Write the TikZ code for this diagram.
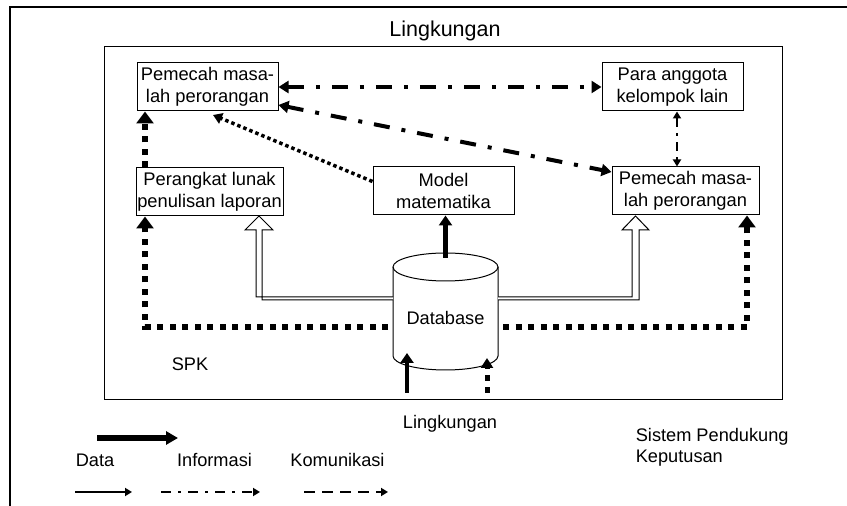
\documentclass[tikz,border=0pt]{standalone}
\usepackage{fontspec}
\setmainfont{Liberation Sans}
\usetikzlibrary{arrows.meta}

\begin{document}
\begin{tikzpicture}[x=1pt, y=1pt, line width=1pt,
    box/.style={draw, align=center, inner sep=1pt, minimum height=48pt, font=\fontsize{18.3}{21.5}\selectfont},
    txt/.style={font=\fontsize{18.2}{21.5}\selectfont},
    datapanah/.style={line width=4.5pt, -{Triangle[length=10pt,width=13pt]}},
    kotak/.style={line width=6pt, dash pattern=on 6pt off 6.5pt, -{Triangle[length=12pt,width=17pt]}},
    titik/.style={line width=3.5pt, dash pattern=on 3.5pt off 3pt, -{Triangle[length=9pt,width=11pt]}},
    titikgaris/.style={line width=4pt, dash pattern=on 16pt off 12pt on 4pt off 12pt,
      {Triangle[length=10pt,width=12pt]}-{Triangle[length=10pt,width=12pt]}},
    hampa/.style={fill=white, line width=1pt}]
    \useasboundingbox (0,0) rectangle (847,506);
    % frames
    \draw[line width=1.5pt] (10,0) -- (10,499) -- (847,499);
    \draw (104,106) rectangle (782,459);
    % set nodes
    \node[box, minimum width=141pt] (pemKiri) at (207.5,419) {Pemecah masa-\\lah perorangan};
    \node[box, minimum width=141pt] (anggota) at (672.5,419) {Para anggota\\kelompok lain};
    \node[box, minimum width=147pt] (perangkat) at (209.5,314) {Perangkat lunak\\penulisan laporan};
    \node[box, minimum width=141pt] (model) at (443.5,315) {Model\\matematika};
    \node[box, minimum width=147pt] (pemKanan) at (685.5,315) {Pemecah masa-\\lah perorangan};
    % database cylinder
    \draw[fill=white] (393,239) -- (393,150) arc[start angle=180, end angle=360, x radius=52.5, y radius=14] -- (498,239);
    \draw (445.5,239) ellipse[x radius=52.5, y radius=14];
    \node[txt] (db) at (445.5,188) {Database};
    % set coordinates
    \coordinate (dbAtas) at (445.5,248);
    \coordinate (kiriBawah) at (145,179);
    \coordinate (kananBawah) at (747,179);
    \coordinate (vx) at (677,0);
    \coordinate (masukData) at (407,113);
    \coordinate (masukKom) at (487,113);
    % draw connectors
    \draw[datapanah] (dbAtas) -- (dbAtas |- model.south);
    \draw[datapanah] (masukData) -- (407,153);
    \draw[line width=5pt, dash pattern=on 6pt off 6pt, -{Triangle[length=10pt,width=12pt]}] (masukKom) -- (487,148);
    \draw[kotak] (388,179) -- (kiriBawah) -- (kiriBawah |- perangkat.south);
    \draw[kotak] (503,179) -- (kananBawah) -- (kananBawah |- pemKanan.south);
    \draw[kotak] (perangkat.north -| kiriBawah) -- (pemKiri.south -| kiriBawah);
    \draw[titik] ([yshift=-15pt]model.north west) -- (213,391);
    \draw[titikgaris] (pemKiri.east) -- (anggota.west);
    \draw[titikgaris] ([yshift=-18pt]pemKiri.east) -- ([yshift=19pt]pemKanan.west);
    \draw[line width=2.5pt, dash pattern=on 9pt off 6pt on 3pt off 6pt,
      {Triangle[length=7pt,width=8pt]}-{Triangle[length=7pt,width=8pt]}] (anggota.south -| vx) -- (pemKanan.north -| vx);
    \draw[hampa] (393,209) -- (256,209) -- (256,276) -- (245,276) -- (259,290) -- (273,276) -- (262,276) -- (262,206) -- (393,206);
    \draw[hampa] (498,209) -- (632,209) -- (632,276) -- (622,276) -- (635.5,290) -- (649,276) -- (639,276) -- (639,206) -- (498,206);
    % add labels
    \node[font=\fontsize{21.5}{25}\selectfont] (lingAtas) at (445,475) {Lingkungan};
    \node[txt] (spk) at (190,142) {SPK};
    \node[txt] (lingBawah) at (450,82) {Lingkungan};
    \node[txt, align=left, anchor=west] (spkNama) at (632,58.5) {Sistem Pendukung\\Keputusan};
    % legend
    \draw[line width=6pt, -{Triangle[length=12pt,width=13pt]}] (97,68) -- (178,68);
    \node[txt] (lgData) at (95,46) {Data};
    \node[txt] (lgInfo) at (214.5,46) {Informasi};
    \node[txt] (lgKom) at (337.5,46) {Komunikasi};
    \draw[line width=2pt, -{Triangle[length=7pt,width=8pt]}] (75,14) -- (132,14);
    \draw[line width=2.5pt, dash pattern=on 10pt off 7pt on 3pt off 7pt, -{Triangle[length=7pt,width=8pt]}] (161,14) -- (260,14);
    \draw[line width=2.5pt, dash pattern=on 11pt off 7pt, -{Triangle[length=7pt,width=8pt]}] (304,14) -- (388,14);
\end{tikzpicture}
\end{document}
